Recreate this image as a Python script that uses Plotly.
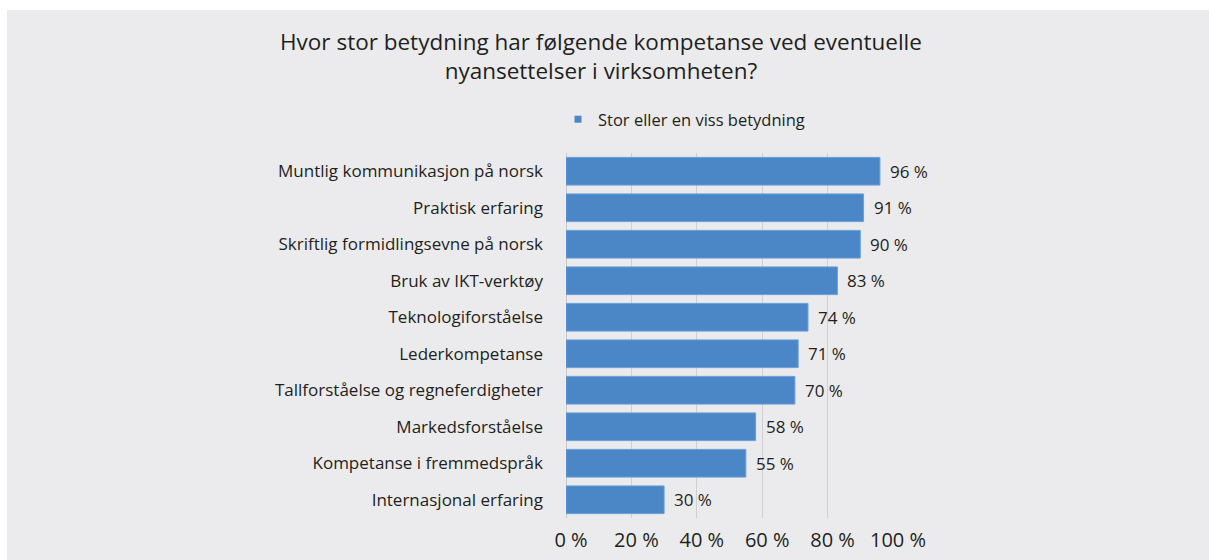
import plotly.graph_objects as go

categories = [
    "Muntlig kommunikasjon på norsk",
    "Praktisk erfaring",
    "Skriftlig formidlingsevne på norsk",
    "Bruk av IKT-verktøy",
    "Teknologiforståelse",
    "Lederkompetanse",
    "Tallforståelse og regneferdigheter",
    "Markedsforståelse",
    "Kompetanse i fremmedspråk",
    "Internasjonal erfaring",
]
values = [96, 91, 90, 83, 74, 71, 70, 58, 55, 30]
series_name = "Stor eller en viss betydning"
x_ticks = [0, 20, 40, 60, 80, 100]
x_tick_labels = ["0 %", "20 %", "40 %", "60 %", "80 %", "100 %"]
title_text = "Hvor stor betydning har følgende kompetanse ved eventuelle<br>nyansettelser i virksomheten?"

W, H = 1209, 560
FONT = "Open Sans"
TEXT = "#231f20"
BAR = "#4b87c7"
BG = "#ebebed"

ml, mr, mt, mb = 566, W - 893, 153, H - 518
pw = W - ml - mr
ph = H - mt - mb


def py(pix):
    """Convert a pixel row (from top) to paper y."""
    return (H - mb - pix) / ph


def px(pix):
    """Convert a pixel column (from left) to paper x."""
    return (pix - ml) / pw


fig = go.Figure()
fig.add_trace(go.Bar(
    y=categories,
    x=values,
    orientation="h",
    name=series_name,
    marker=dict(color=BAR, line=dict(color="#6c9fd6", width=1)),
    width=0.76,
    showlegend=False,
))
# small square legend key for the series
fig.add_trace(go.Scatter(
    x=[None], y=[None], mode="markers", name=series_name,
    marker=dict(symbol="square", size=7, color=BAR),
    showlegend=True, hoverinfo="skip",
))

# value labels beside each bar
for c, v in zip(categories, values):
    fig.add_annotation(
        x=v, y=c, xref="x", yref="y",
        text=f"{v} %", showarrow=False,
        xanchor="left", xshift=8,
        font=dict(family=FONT, size=17, color=TEXT),
    )

# two-line heading
fig.add_annotation(
    x=px(601), y=py(56), xref="paper", yref="paper",
    xanchor="center", yanchor="middle",
    text=title_text, showarrow=False, align="center",
    font=dict(family=FONT, size=22.5, color=TEXT),
)

# white frame strips along the left and top edges
fig.add_shape(
    type="rect", xref="paper", yref="paper", layer="above",
    x0=px(-5), x1=px(7), y0=py(H + 5), y1=py(-5),
    fillcolor="white", line=dict(width=0),
)
fig.add_shape(
    type="rect", xref="paper", yref="paper", layer="above",
    x0=px(-5), x1=px(W + 5), y0=py(10), y1=py(-5),
    fillcolor="white", line=dict(width=0),
)

fig.update_layout(
    width=W, height=H, autosize=False,
    margin=dict(l=ml, r=mr, t=mt, b=mb, pad=0, autoexpand=False),
    paper_bgcolor=BG,
    plot_bgcolor=BG,
    font=dict(family=FONT, color=TEXT),
    legend=dict(
        orientation="h",
        xref="container", yref="container",
        x=558 / W, xanchor="left",
        y=1 - 102 / H, yanchor="top",
        font=dict(family=FONT, size=16.5, color=TEXT),
        bgcolor="rgba(0,0,0,0)",
        itemwidth=30,
    ),
    bargap=0.24,
    xaxis=dict(
        range=[0, 100],
        tickvals=x_ticks, ticktext=x_tick_labels,
        showgrid=True, gridcolor="#d0d0d2", gridwidth=1,
        zeroline=True, zerolinecolor="#c8c8ca", zerolinewidth=1,
        showline=False, ticks="",
        tickfont=dict(family=FONT, size=20, color=TEXT),
        ticklabelstandoff=8,
        ticklabelshift=5,
        automargin=False,
        fixedrange=True,
    ),
    yaxis=dict(
        categoryorder="array", categoryarray=categories,
        autorange="reversed",
        showgrid=False, showline=False, ticks="",
        tickfont=dict(family=FONT, size=17, color=TEXT),
        ticklabelstandoff=22,
        automargin=False,
        fixedrange=True,
    ),
)

fig.write_html(
    "out.html",
    config={"displayModeBar": False},
    post_script=(
        "document.documentElement.style.overflow='hidden';"
        "document.body.style.margin='0';"
        "document.body.style.overflow='hidden';"
    ),
)
